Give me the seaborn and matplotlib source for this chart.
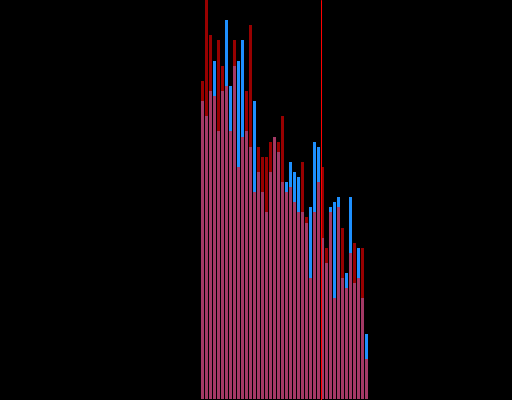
import pandas as pd
import seaborn as sns
import matplotlib
matplotlib.use("Agg")
import matplotlib.pyplot as plt

# Per-bin counts for the two overlapping distributions (42 unit-width bins)
bin_centers = list(range(42))
blue_counts = [59, 56, 61, 67, 53, 61, 75, 62, 66, 67,
               71, 53, 50, 59, 45, 41, 37, 45, 52, 49,
               43, 43, 47, 45, 44, 37, 35, 38, 51, 50,
               32, 27, 38, 39, 40, 24, 25, 40, 23, 30,
               20, 13]
red_counts = [63, 84, 72, 60, 71, 66, 62, 53, 71, 46,
              52, 61, 74, 41, 50, 48, 48, 51, 52, 51,
              56, 41, 42, 39, 37, 47, 36, 24, 37, 43,
              46, 30, 37, 20, 38, 34, 22, 29, 31, 24,
              30, 8]
cutoff = 29.5

df = pd.DataFrame({"bin": bin_centers, "blue": blue_counts, "red": red_counts})
bin_range = (-0.5, len(bin_centers) - 0.5)

sns.set_style("dark")
fig = plt.figure(figsize=(5.12, 4.0), dpi=100, facecolor="black")
ax = fig.add_axes([0, 0, 1, 1])
ax.set_facecolor("black")

sns.histplot(data=df, x="bin", weights="blue", binwidth=1, binrange=bin_range,
             shrink=0.75, color="#1e90ff", alpha=1.0, linewidth=0, ax=ax)
sns.histplot(data=df, x="bin", weights="red", binwidth=1, binrange=bin_range,
             shrink=0.75, color="#ff0000", alpha=0.6, linewidth=0, ax=ax)
ax.axvline(cutoff, color="#ff0000", linewidth=0.75, snap=True, zorder=5)

ax.set_xlim(-50.625, 77.375)
ax.set_ylim(-0.1, 79.0)
ax.set_axis_off()

fig.savefig("out.png", dpi=100, facecolor="black")
